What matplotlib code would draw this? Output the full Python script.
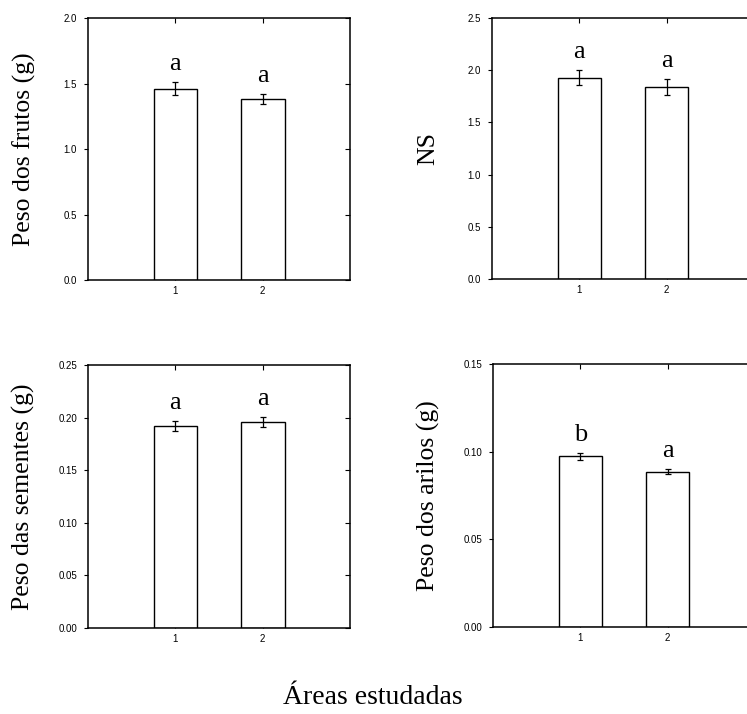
import matplotlib
matplotlib.use("Agg")
import matplotlib.pyplot as plt

areas = [1, 2]
area_labels = ["1", "2"]

frutos = [1.46, 1.38]
frutos_err = [0.05, 0.04]
frutos_letters = ["a", "a"]

ns = [1.93, 1.84]
ns_err = [0.07, 0.08]
ns_letters = ["a", "a"]

sementes = [0.192, 0.196]
sementes_err = [0.0045, 0.005]
sementes_letters = ["a", "a"]

arilos = [0.0974, 0.0886]
arilos_err = [0.002, 0.0016]
arilos_letters = ["b", "a"]

panels = [
    dict(vals=frutos, err=frutos_err, letters=frutos_letters, label="Peso dos frutos (g)",
         ylim=(0, 2.0), ticks=[0.0, 0.5, 1.0, 1.5, 2.0], fmt="{:.1f}",
         pos=(88, 18, 262, 262)),
    dict(vals=ns, err=ns_err, letters=ns_letters, label="NS",
         ylim=(0, 2.5), ticks=[0.0, 0.5, 1.0, 1.5, 2.0, 2.5], fmt="{:.1f}",
         pos=(492, 18, 262, 261)),
    dict(vals=sementes, err=sementes_err, letters=sementes_letters, label="Peso das sementes (g)",
         ylim=(0, 0.25), ticks=[0.0, 0.05, 0.10, 0.15, 0.20, 0.25], fmt="{:.2f}",
         pos=(88, 365, 262, 263)),
    dict(vals=arilos, err=arilos_err, letters=arilos_letters, label="Peso dos arilos (g)",
         ylim=(0, 0.15), ticks=[0.0, 0.05, 0.10, 0.15], fmt="{:.2f}",
         pos=(493, 364, 262, 263)),
]

W, H = 747, 714
fig = plt.figure(figsize=(W / 100, H / 100), dpi=100)
serif = "Liberation Serif"
sans = "Liberation Sans"

for p in panels:
    l, t, w, h = p["pos"]
    ax = fig.add_axes([l / W, (H - t - h) / H, w / W, h / H])
    ax.bar(areas, p["vals"], width=0.5, color="white", edgecolor="black", linewidth=1.0, zorder=2)
    ax.errorbar(areas, p["vals"], yerr=p["err"], fmt="none", ecolor="black",
                elinewidth=0.9, capsize=2.5, capthick=0.9, zorder=3)
    for x, v, e, s in zip(areas, p["vals"], p["err"], p["letters"]):
        ax.annotate(s, (x, v + e), xytext=(0, 8.5), textcoords="offset points",
                    ha="center", va="baseline", fontsize=19, family=serif)
    ax.set_xlim(0, 3)
    ax.set_ylim(*p["ylim"])
    ax.set_xticks(areas)
    ax.set_xticklabels(area_labels)
    ax.set_yticks(p["ticks"])
    ax.set_yticklabels([p["fmt"].format(v) for v in p["ticks"]])
    for lab in ax.get_xticklabels() + ax.get_yticklabels():
        lab.set_family(sans)
        lab.set_fontsize(7)
    ax.tick_params(axis="y", which="both", direction="out", length=3, width=0.8, pad=5,
                   left=True, right=False)
    ax.tick_params(axis="x", which="both", direction="in", length=3.5, width=0.8, pad=4,
                   top=True)
    ax2 = ax.secondary_yaxis("right")
    ax2.set_yticks(p["ticks"])
    ax2.tick_params(direction="in", length=3.5, width=0.8, labelright=False)
    ax2.spines["right"].set_visible(False)
    for sp in ax.spines.values():
        sp.set_linewidth(1.1)
    ax.set_ylabel(p["label"], fontsize=18.5, family=serif, va="center")
    ax.yaxis.set_label_coords(-0.245, 0.5)

fig.text(373 / W, 1 - 697 / H, "Áreas estudadas", ha="center", va="center",
         fontsize=20, family=serif)

fig.savefig("out.png", dpi=100, facecolor="white")
